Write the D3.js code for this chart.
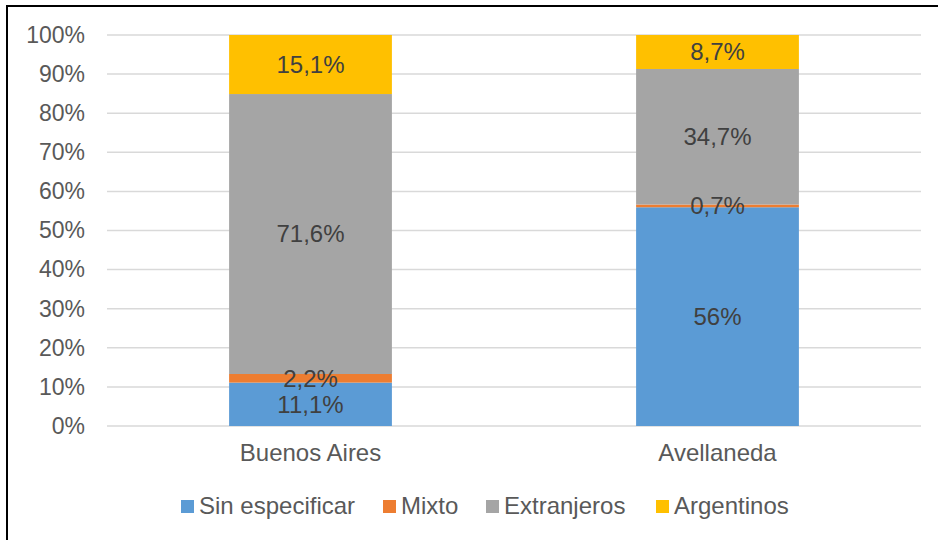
<!DOCTYPE html>
<html>
<head>
<meta charset="utf-8">
<script src="https://cdn.jsdelivr.net/npm/d3@7"></script>
<style>
  body { margin: 0; background: #fff; }
  svg { display: block; font-family: "Liberation Sans", Arial, sans-serif; }
</style>
</head>
<body>
<svg id="chart" width="938" height="540"></svg>
<script>
// Data
const categories = ["Buenos Aires", "Avellaneda"];
const seriesNames = ["Sin especificar", "Mixto", "Extranjeros", "Argentinos"];
const sinEspecificar = [11.1, 56];
const mixto = [2.2, 0.7];
const extranjeros = [71.6, 34.7];
const argentinos = [15.1, 8.7];
const labelText = [["11,1%", "56%"], ["2,2%", "0,7%"], ["71,6%", "34,7%"], ["15,1%", "8,7%"]];
const colors = ["#5b9bd5", "#ed7d31", "#a5a5a5", "#ffc000"];

const svg = d3.select("#chart");
const margin = { top: 35, right: 17, bottom: 114, left: 107 };
const width = 938 - margin.left - margin.right;
const height = 540 - margin.top - margin.bottom;

// outer frame (only top and left edges are visible in the reference)
svg.append("line").attr("x1", 7).attr("x2", 938).attr("y1", 6).attr("y2", 6)
    .attr("stroke", "#000").attr("stroke-width", 2);
svg.append("line").attr("x1", 7).attr("x2", 7).attr("y1", 5).attr("y2", 540)
    .attr("stroke", "#000").attr("stroke-width", 2);

const g = svg.append("g").attr("transform", `translate(${margin.left},${margin.top})`);

const rows = categories.map((c, i) => ({
    cat: c,
    "Sin especificar": sinEspecificar[i],
    "Mixto": mixto[i],
    "Extranjeros": extranjeros[i],
    "Argentinos": argentinos[i]
}));

const stack = d3.stack().keys(seriesNames).offset(d3.stackOffsetExpand);
const stacked = stack(rows);

const x = d3.scaleBand().domain(categories).range([0, width]).paddingInner(0.6).paddingOuter(0.3);
const y = d3.scaleLinear().domain([0, 1]).range([height, 0]);

// gridlines
const ticks = d3.range(0, 1.0001, 0.1);
g.selectAll("line.grid").data(ticks).enter().append("line")
    .attr("class", "grid")
    .attr("x1", 0).attr("x2", width)
    .attr("y1", d => y(d)).attr("y2", d => y(d))
    .attr("stroke", "#d9d9d9").attr("stroke-width", 1.5);

// y axis labels
const yAxis = d3.axisLeft(y).tickValues(ticks).tickFormat(d3.format(".0%")).tickSize(0).tickPadding(22);
const yg = g.append("g").call(yAxis);
yg.select(".domain").remove();
yg.selectAll("text").attr("fill", "#595959").style("font-size", "23px")
    .style("font-family", "'Liberation Sans', Arial, sans-serif");

// x axis labels
const xAxis = d3.axisBottom(x).tickSize(0).tickPadding(18);
const xg = g.append("g").attr("transform", `translate(0,${height})`).call(xAxis);
xg.select(".domain").remove();
xg.selectAll("text").attr("fill", "#595959").style("font-size", "24px")
    .style("font-family", "'Liberation Sans', Arial, sans-serif");

// bars
const layers = g.selectAll("g.layer").data(stacked).enter().append("g")
    .attr("class", "layer")
    .attr("fill", (d, i) => colors[i]);

layers.selectAll("rect").data(d => d).enter().append("rect")
    .attr("x", d => x(d.data.cat))
    .attr("width", x.bandwidth())
    .attr("y", d => y(Math.min(d[1], 1)))
    .attr("height", d => y(d[0]) - y(Math.min(d[1], 1)));

// data labels
stacked.forEach((layer, si) => {
    g.selectAll(`text.lbl${si}`).data(layer).enter().append("text")
        .attr("class", `lbl${si}`)
        .attr("x", d => x(d.data.cat) + x.bandwidth() / 2)
        .attr("y", d => y((d[0] + Math.min(d[1], 1)) / 2))
        .attr("dy", "0.35em")
        .attr("text-anchor", "middle")
        .attr("fill", "#404040")
        .style("font-size", "24px")
        .text((d, i) => labelText[si][i]);
});

// legend
const legendX = [181, 383, 486, 656];
const legend = svg.append("g").attr("transform", "translate(0,506)");
seriesNames.forEach((name, i) => {
    legend.append("rect").attr("x", legendX[i]).attr("y", -6).attr("width", 13).attr("height", 13)
        .attr("fill", colors[i]);
    legend.append("text").attr("x", legendX[i] + 18).attr("y", 0).attr("dy", "0.35em")
        .attr("fill", "#595959").style("font-size", "24px")
        .text(name);
});
</script>
</body>
</html>
